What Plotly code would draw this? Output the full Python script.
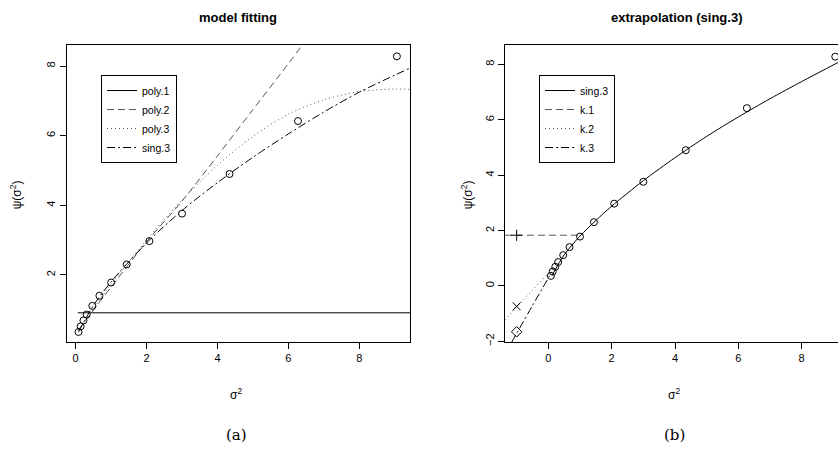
import plotly.graph_objects as go

# ---- data ----
sigma2 = [0.08, 0.14, 0.22, 0.31, 0.47, 0.67, 1.0, 1.44, 2.08, 3.0, 4.34, 6.27, 9.06]
psi = [0.36, 0.52, 0.69, 0.86, 1.11, 1.40, 1.78, 2.30, 2.97, 3.76, 4.90, 6.42, 8.28]

# panel (a): fitted curves
poly1_x = [0.06, 9.43]
poly1_y = [0.91, 0.91]
poly2_x = [0.08, 1.0, 2.0, 3.0, 4.0, 5.0, 6.0, 6.5]
poly2_y = [0.42, 1.65, 2.95, 4.12, 5.42, 6.75, 8.07, 8.75]
poly3_x = [0.08, 1.0, 2.0, 3.0, 4.0, 5.0, 6.0, 7.0, 8.0, 9.0, 9.43]
poly3_y = [0.40, 1.74, 3.0, 4.15, 5.15, 5.98, 6.62, 7.03, 7.27, 7.34, 7.33]
sing3a_x = [0.08, 0.5, 1.0, 2.0, 3.0, 4.0, 5.0, 6.0, 7.0, 8.0, 9.0, 9.43]
sing3a_y = [0.36, 1.12, 1.80, 2.92, 3.85, 4.65, 5.38, 6.05, 6.68, 7.25, 7.74, 7.94]

# panel (b): sing.3 fit and extrapolations to sigma2 = -1
sing3b_x = [0.12, 0.5, 1.0, 1.5, 2.0, 3.0, 4.0, 5.0, 6.0, 7.0, 8.0, 9.2]
sing3b_y = [0.38, 1.12, 1.80, 2.36, 2.88, 3.80, 4.63, 5.40, 6.10, 6.76, 7.38, 8.10]
k1_x = [-1.37, 0.95]
k1_y = [1.83, 1.83]
k2_x = [-1.37, 0.10]
k2_y = [-1.23, 0.58]
k3_x = [-1.16, -0.5, 0.10]
k3_y = [-2.04, -0.71, 0.48]
extrap_x = [-1.0, -1.0, -1.0]
extrap_y = [1.83, -0.74, -1.66]
extrap_symbols = ["cross-thin-open", "x-thin-open", "diamond-open"]

xticks = [0, 2, 4, 6, 8]
yticks_a = [2, 4, 6, 8]
yticks_b = [-2, 0, 2, 4, 6, 8]

W, H = 838, 450
BLACK = "black"
GRAY = "#555555"

fig = go.Figure()

def line_trace(x, y, name, dash, color, xa, ya, legend, show=True):
    return go.Scatter(x=x, y=y, mode="lines", name=name,
                      line=dict(color=color, width=1, dash=dash, shape="spline", smoothing=0.8),
                      xaxis=xa, yaxis=ya, legend=legend, showlegend=show)

DASH = "7px,4px"
DOT = "1px,3px"
DASHDOT = "8px,3px,2px,3px"

# panel (a)
fig.add_trace(line_trace(poly1_x, poly1_y, "poly.1", "solid", BLACK, "x", "y", "legend"))
fig.add_trace(line_trace(poly2_x, poly2_y, "poly.2", DASH, GRAY, "x", "y", "legend"))
fig.add_trace(line_trace(poly3_x, poly3_y, "poly.3", DOT, GRAY, "x", "y", "legend"))
fig.add_trace(line_trace(sing3a_x, sing3a_y, "sing.3", DASHDOT, BLACK, "x", "y", "legend"))
fig.add_trace(go.Scatter(x=sigma2, y=psi, mode="markers", showlegend=False,
                         marker=dict(symbol="circle-open", size=7, color=BLACK,
                                     line=dict(width=1, color=BLACK)),
                         xaxis="x", yaxis="y"))

# panel (b)
fig.add_trace(line_trace(sing3b_x, sing3b_y, "sing.3", "solid", BLACK, "x2", "y2", "legend2"))
fig.add_trace(line_trace(k1_x, k1_y, "k.1", DASH, GRAY, "x2", "y2", "legend2"))
fig.add_trace(line_trace(k2_x, k2_y, "k.2", DOT, GRAY, "x2", "y2", "legend2"))
fig.add_trace(line_trace(k3_x, k3_y, "k.3", DASHDOT, BLACK, "x2", "y2", "legend2"))
fig.add_trace(go.Scatter(x=sigma2, y=psi, mode="markers", showlegend=False,
                         marker=dict(symbol="circle-open", size=7, color=BLACK,
                                     line=dict(width=1, color=BLACK)),
                         xaxis="x2", yaxis="y2"))
fig.add_trace(go.Scatter(x=extrap_x, y=extrap_y, mode="markers", showlegend=False,
                         marker=dict(symbol=extrap_symbols, size=8, color=BLACK,
                                     line=dict(width=1, color=BLACK)),
                         xaxis="x2", yaxis="y2"))

# geometry (pixels -> paper)
ax_l, ax_r = 66.7, 410.0
bx_l, bx_r = 505.0, 838.0
top, bot = 45.7, 345.0
ydom = [1 - bot / H, 1 - top / H]

tickfont = dict(family="Liberation Sans, Arial, sans-serif", size=11, color=BLACK)
common_x = dict(showgrid=False, zeroline=False, showline=True, linecolor=BLACK, linewidth=1,
                ticks="outside", ticklen=6, tickwidth=1, tickcolor=BLACK,
                tickvals=xticks, tickfont=tickfont)
common_y = dict(showgrid=False, zeroline=False, showline=True, linecolor=BLACK, linewidth=1,
                ticks="outside", ticklen=6, tickwidth=1, tickcolor=BLACK,
                tickangle=-90, tickfont=tickfont)

legend_common = dict(bgcolor="white", bordercolor=BLACK, borderwidth=1,
                     font=dict(family="Liberation Sans, Arial, sans-serif", size=10.5, color=BLACK),
                     xanchor="left", yanchor="top", itemwidth=30, tracegroupgap=0)

fig.update_layout(
    width=W, height=H, margin=dict(l=0, r=0, t=0, b=0),
    paper_bgcolor="white", plot_bgcolor="white",
    xaxis=dict(domain=[ax_l / W, ax_r / W], range=[-0.253, 9.43], anchor="y", mirror=True, **common_x),
    yaxis=dict(domain=ydom, range=[0.073, 8.597], anchor="x", mirror=True, tickvals=yticks_a, **common_y),
    xaxis2=dict(domain=[bx_l / W, bx_r / W], range=[-1.368, 9.147], anchor="y2", mirror=True, **common_x),
    yaxis2=dict(domain=ydom, range=[-2.025, 8.69], anchor="x2", mirror=False, tickvals=yticks_b, **common_y),
    legend=dict(x=101 / W, y=1 - 75.7 / H, **legend_common),
    legend2=dict(x=539 / W, y=1 - 75.7 / H, **legend_common),
    showlegend=True,
)

title_font = dict(family="Liberation Sans, Arial, sans-serif", size=13, color=BLACK)
lab_font = dict(family="Liberation Sans, Arial, sans-serif", size=12, color=BLACK)
cap_font = dict(family="DejaVu Serif, Liberation Serif, serif", size=15, color=BLACK)

annots = [
    dict(text="<b>model fitting</b>", x=238 / W, y=1 - 18 / H, font=title_font),
    dict(text="<b>extrapolation (sing.3)</b>", x=676 / W, y=1 - 18 / H, font=title_font),
    dict(text="σ<sup>2</sup>", x=236 / W, y=1 - 398 / H, font=lab_font),
    dict(text="σ<sup>2</sup>", x=674 / W, y=1 - 398 / H, font=lab_font),
    dict(text="ψ(σ<sup>2</sup>)", x=16 / W, y=1 - 197 / H, font=lab_font, textangle=-90),
    dict(text="ψ(σ<sup>2</sup>)", x=467 / W, y=1 - 197 / H, font=lab_font, textangle=-90),
    dict(text="(a)", x=236 / W, y=1 - 439 / H, font=cap_font),
    dict(text="(b)", x=674 / W, y=1 - 439 / H, font=cap_font),
]
for a in annots:
    fig.add_annotation(xref="paper", yref="paper", showarrow=False,
                       xanchor="center", yanchor="middle", **a)

fig.write_html("out.html")
